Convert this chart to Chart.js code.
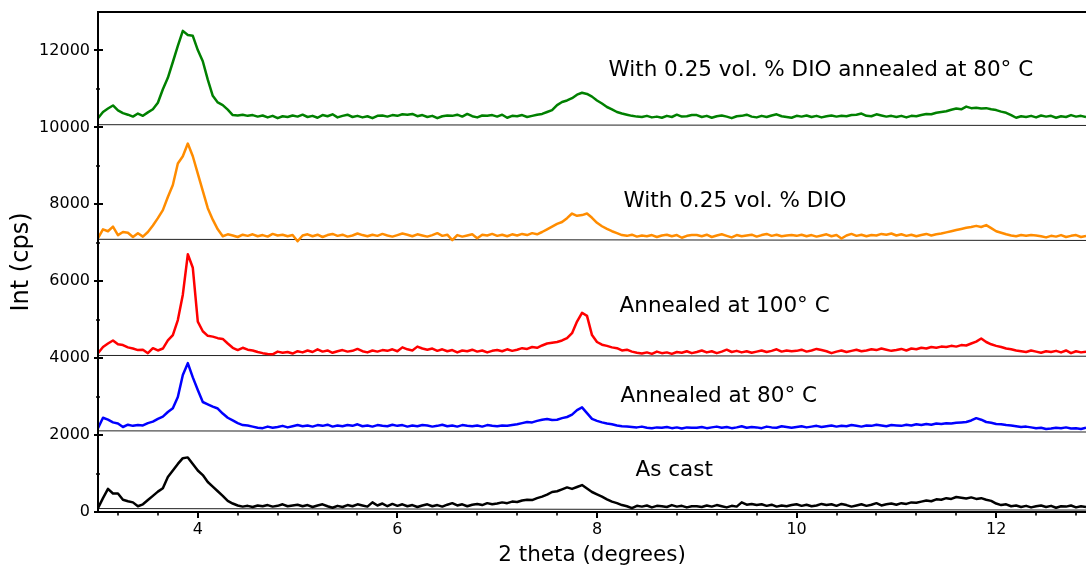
<!DOCTYPE html>
<html>
<head>
<meta charset="utf-8">
<script src="https://cdn.jsdelivr.net/npm/chart.js@4.4.1/dist/chart.umd.min.js"></script>
<style>
html,body{margin:0;padding:0;background:#fff;}
#wrap{width:1086px;height:569px;position:relative;}
</style>
</head>
<body>
<div id="wrap"><canvas id="c" width="1086" height="569"></canvas></div>
<script>
// ---- data ----
const X_START = 3.0;
const X_STEP = 0.05;
const xTickValues = [4, 6, 8, 10, 12];
const yTickValues = [0, 2000, 4000, 6000, 8000, 10000, 12000];

const seriesLabels = ['With 0.25 vol. % DIO annealed at 80° C', 'With 0.25 vol. % DIO', 'Annealed at 100° C', 'Annealed at 80° C', 'As cast'];

const dioAnnealed80 = [
10240,10400,10490,10570,10440,10370,10330,10280,10360,10300,10390,10470,10640,10990,11290,11700,12120,12510,12400,12380,
12010,11720,11240,10820,10650,10580,10460,10320,10310,10330,10300,10320,10280,10310,10260,10300,10240,10290,10270,10310,
10280,10330,10270,10300,10250,10320,10290,10340,10260,10300,10330,10270,10300,10260,10290,10240,10300,10310,10280,10320,
10300,10340,10330,10350,10290,10320,10270,10300,10240,10290,10310,10300,10330,10280,10350,10290,10260,10310,10300,10320,
10280,10330,10250,10300,10290,10320,10270,10300,10330,10350,10400,10450,10580,10660,10700,10760,10850,10900,10870,10800,
10700,10620,10530,10470,10400,10360,10330,10300,10280,10270,10300,10260,10280,10250,10300,10270,10330,10280,10290,10320,
10320,10270,10300,10250,10290,10310,10280,10240,10290,10300,10330,10280,10260,10300,10270,10310,10340,10290,10270,10250,
10300,10280,10310,10270,10300,10260,10290,10310,10280,10300,10290,10320,10330,10360,10300,10290,10340,10310,10280,10300,
10270,10300,10260,10300,10290,10320,10350,10340,10380,10400,10420,10460,10490,10470,10540,10500,10510,10490,10500,10470,
10450,10410,10380,10320,10250,10290,10270,10300,10260,10310,10280,10300,10250,10290,10270,10320,10280,10300,10270,10290,
10280];

const dio = [
7120,7350,7300,7420,7200,7280,7260,7150,7250,7160,7280,7450,7640,7850,8190,8500,9060,9250,9580,9250,
8800,8350,7900,7600,7350,7170,7220,7190,7150,7210,7180,7220,7170,7200,7160,7230,7190,7210,7170,7200,
7040,7190,7220,7170,7210,7150,7200,7230,7180,7210,7160,7190,7240,7200,7170,7210,7180,7230,7190,7160,
7200,7240,7210,7170,7220,7190,7160,7200,7250,7180,7210,7070,7200,7160,7190,7220,7120,7210,7190,7230,
7180,7210,7170,7220,7190,7230,7200,7250,7220,7280,7350,7420,7490,7540,7640,7760,7700,7720,7760,7650,
7520,7430,7360,7300,7250,7200,7180,7210,7160,7190,7170,7200,7150,7190,7210,7170,7200,7130,7180,7200,
7200,7170,7210,7150,7190,7220,7180,7140,7200,7170,7190,7210,7160,7200,7230,7180,7210,7170,7190,7200,
7180,7210,7170,7200,7160,7190,7220,7170,7200,7110,7190,7230,7180,7210,7170,7200,7190,7230,7210,7240,
7190,7220,7180,7210,7170,7200,7230,7190,7220,7240,7270,7300,7330,7360,7390,7410,7440,7410,7460,7380,
7300,7260,7220,7190,7170,7200,7180,7200,7190,7170,7140,7180,7160,7200,7150,7180,7200,7150,7180,7170,
7180];

const annealed100 = [
4130,4290,4380,4460,4360,4340,4280,4250,4210,4220,4130,4260,4200,4250,4460,4600,4990,5650,6700,6350,
4950,4700,4580,4560,4520,4500,4380,4270,4210,4270,4220,4200,4160,4130,4110,4100,4170,4140,4160,4120,
4180,4150,4200,4160,4230,4170,4200,4140,4180,4210,4170,4190,4240,4180,4150,4200,4170,4210,4190,4230,
4180,4280,4230,4200,4300,4250,4220,4250,4190,4230,4180,4210,4150,4200,4180,4220,4170,4200,4150,4190,
4210,4180,4230,4190,4220,4260,4240,4290,4270,4330,4380,4400,4420,4460,4520,4650,4950,5180,5100,4600,
4420,4350,4320,4280,4260,4200,4220,4170,4140,4120,4150,4110,4170,4130,4150,4110,4160,4140,4180,4130,
4160,4200,4150,4180,4130,4170,4220,4160,4190,4150,4180,4140,4170,4200,4160,4190,4230,4170,4200,4180,
4190,4220,4170,4200,4240,4210,4180,4130,4170,4200,4160,4190,4220,4180,4200,4230,4210,4250,4220,4190,
4210,4240,4200,4250,4230,4270,4250,4290,4270,4300,4290,4320,4300,4340,4330,4380,4430,4510,4420,4360,
4320,4290,4250,4230,4200,4180,4160,4200,4170,4140,4180,4160,4190,4150,4200,4130,4180,4150,4170,4150,
4160];

const annealed80 = [
2180,2450,2400,2330,2300,2210,2270,2240,2260,2250,2310,2350,2420,2480,2600,2700,2990,3560,3870,3500,
3170,2860,2800,2740,2690,2560,2450,2380,2310,2260,2250,2220,2190,2180,2220,2190,2210,2240,2200,2230,
2260,2230,2250,2220,2260,2240,2270,2220,2250,2230,2260,2240,2280,2230,2250,2220,2260,2240,2230,2270,
2240,2260,2220,2250,2230,2260,2250,2220,2240,2270,2230,2250,2220,2260,2240,2230,2250,2220,2260,2240,
2230,2250,2240,2260,2280,2310,2340,2330,2370,2400,2420,2390,2400,2440,2470,2530,2650,2720,2570,2420,
2370,2330,2300,2280,2250,2230,2220,2210,2200,2220,2190,2180,2200,2190,2210,2180,2200,2170,2200,2190,
2190,2210,2180,2200,2220,2190,2210,2180,2200,2230,2190,2210,2200,2180,2220,2200,2190,2230,2210,2190,
2210,2230,2200,2220,2240,2210,2230,2250,2220,2240,2230,2260,2240,2220,2250,2240,2270,2250,2230,2260,
2250,2240,2270,2250,2280,2260,2290,2270,2300,2290,2310,2300,2320,2330,2340,2380,2440,2400,2340,2320,
2290,2280,2260,2250,2230,2210,2220,2200,2180,2190,2160,2170,2190,2180,2200,2170,2180,2160,2190,2170,
2180];

const asCast = [
100,360,600,480,480,320,280,250,150,200,310,420,530,620,910,1080,1250,1400,1420,1250,
1080,960,780,660,540,420,290,220,170,140,160,130,170,150,180,140,160,200,150,170,
190,150,180,130,170,200,150,110,160,130,180,150,200,170,140,250,170,220,150,210,
160,200,150,180,130,170,200,150,180,140,190,230,170,200,150,190,210,180,230,200,
220,250,230,270,260,300,320,310,360,400,450,520,540,590,640,600,650,700,610,520,
460,400,330,270,230,180,150,100,160,140,170,120,160,150,130,180,140,160,120,150,
150,130,170,140,180,150,120,160,140,250,190,210,180,200,160,190,140,170,150,180,
200,160,190,150,170,210,180,200,160,210,180,140,170,200,160,190,230,170,200,220,
190,230,210,250,240,270,300,280,330,320,360,340,390,370,350,380,340,360,320,290,
220,180,200,150,170,130,160,120,150,170,130,160,110,150,140,170,120,150,130,140,
150];

// background level lines under each pattern (value at left end, value at right end)
const baselineLeft  = [10070, 7090, 4070, 2110, 90];
const baselineRight = [10050, 7060, 4050, 2080, 50];

// ---- presentation ----
const seriesValues = [dioAnnealed80, dio, annealed100, annealed80, asCast];
const seriesColors = ['#008000', '#ff8c00', '#ff0000', '#0000ff', '#000000'];
const X_MIN = 3, X_MAX = 12.9, Y_MIN = 0, Y_MAX = 13000;
const FONT = 'DejaVu Sans';

// annotation anchors in data units (left edge, text baseline)
const annotations = [
  {text: seriesLabels[0], x: 8.115, y: 11340},
  {text: seriesLabels[1], x: 8.266, y: 7930},
  {text: seriesLabels[2], x: 8.226, y: 5200},
  {text: seriesLabels[3], x: 8.236, y: 2860},
  {text: seriesLabels[4], x: 8.386, y: 936}
];

function toPoints(arr) {
  return arr.map((v, i) => ({x: X_START + i * X_STEP, y: v}));
}

const datasets = [];
seriesValues.forEach((vals, k) => {
  datasets.push({
    label: seriesLabels[k] + ' baseline',
    data: [{x: X_MIN, y: baselineLeft[k]}, {x: X_MAX, y: baselineRight[k]}],
    borderColor: '#222',
    borderWidth: 1,
    pointRadius: 0,
    tension: 0,
    order: 10
  });
});
seriesValues.forEach((vals, k) => {
  datasets.push({
    label: seriesLabels[k],
    data: toPoints(vals),
    borderColor: seriesColors[k],
    borderWidth: 2.5,
    pointRadius: 0,
    tension: 0,
    borderJoinStyle: 'round',
    order: 1
  });
});

const framePlugin = {
  id: 'frame',
  afterDatasetsDraw(chart) {
    const {ctx, chartArea: a, scales: {x, y}} = chart;
    ctx.save();
    ctx.strokeStyle = '#000';
    ctx.lineWidth = 2;
    ctx.beginPath();
    ctx.moveTo(a.left - 1, a.top); ctx.lineTo(a.right, a.top);
    ctx.moveTo(a.left, a.top - 1); ctx.lineTo(a.left, a.bottom + 1);
    ctx.moveTo(a.left - 1, a.bottom); ctx.lineTo(a.right, a.bottom);
    yTickValues.forEach(v => {
      const py = Math.round(y.getPixelForValue(v));
      ctx.moveTo(a.left - 4, py); ctx.lineTo(a.left + 5, py);
    });
    xTickValues.forEach(v => {
      const px = Math.round(x.getPixelForValue(v));
      ctx.moveTo(px, a.bottom); ctx.lineTo(px, a.bottom + 6);
    });
    ctx.stroke();
    ctx.lineWidth = 1.6;
    ctx.beginPath();
    for (let i = 1; i < yTickValues.length; i++) {
      const v = (yTickValues[i - 1] + yTickValues[i]) / 2;
      const py = Math.round(y.getPixelForValue(v));
      ctx.moveTo(a.left - 2, py); ctx.lineTo(a.left + 2, py);
    }
    for (let k = 1; k * 0.4 + 2.8 < X_MAX; k++) {
      const v = 2.8 + k * 0.4;
      if (Math.abs(v / 2 - Math.round(v / 2)) < 1e-6) continue;
      const px = Math.round(x.getPixelForValue(v));
      ctx.moveTo(px, a.bottom); ctx.lineTo(px, a.bottom + 3.5);
    }
    ctx.stroke();

    ctx.fillStyle = '#000';
    ctx.font = '21.5px "' + FONT + '"';
    ctx.textAlign = 'left';
    ctx.textBaseline = 'alphabetic';
    annotations.forEach(an => {
      ctx.fillText(an.text, x.getPixelForValue(an.x), y.getPixelForValue(an.y));
    });
    ctx.restore();
  }
};

new Chart(document.getElementById('c'), {
  type: 'line',
  data: {datasets},
  plugins: [framePlugin],
  options: {
    responsive: false,
    animation: false,
    events: [],
    layout: {padding: {top: 12, right: 0, left: 0, bottom: 0}},
    plugins: {legend: {display: false}, tooltip: {enabled: false}},
    scales: {
      x: {
        type: 'linear',
        min: X_MIN,
        max: X_MAX,
        afterBuildTicks: s => { s.ticks = xTickValues.map(v => ({value: v})); },
        afterFit: s => { s.height = 57; s.paddingLeft = 0; s.paddingRight = 0; s.paddingTop = 0; s.paddingBottom = 0; },
        grid: {display: false, drawTicks: false},
        border: {display: false},
        ticks: {
          padding: 8, color: '#000', maxRotation: 0, autoSkip: false,
          font: {family: FONT, size: 16},
          callback: v => String(v)
        },
        title: {display: true, text: '2 theta (degrees)', color: '#000',
                font: {family: FONT, size: 21.5}, padding: {top: 0, bottom: 1}}
      },
      y: {
        type: 'linear',
        min: Y_MIN,
        max: Y_MAX,
        afterBuildTicks: s => { s.ticks = yTickValues.map(v => ({value: v})); },
        afterFit: s => { s.width = 98; s.paddingTop = 0; s.paddingBottom = 0; s.paddingLeft = 0; s.paddingRight = 0; },
        grid: {display: false, drawTicks: false},
        border: {display: false},
        ticks: {
          padding: 8, color: '#000', autoSkip: false,
          font: {family: FONT, size: 16},
          callback: v => String(v)
        },
        title: {display: true, text: 'Int (cps)', color: '#000',
                font: {family: FONT, size: 24}, padding: {top: 7, bottom: 0}}
      }
    }
  }
});
</script>
</body>
</html>
